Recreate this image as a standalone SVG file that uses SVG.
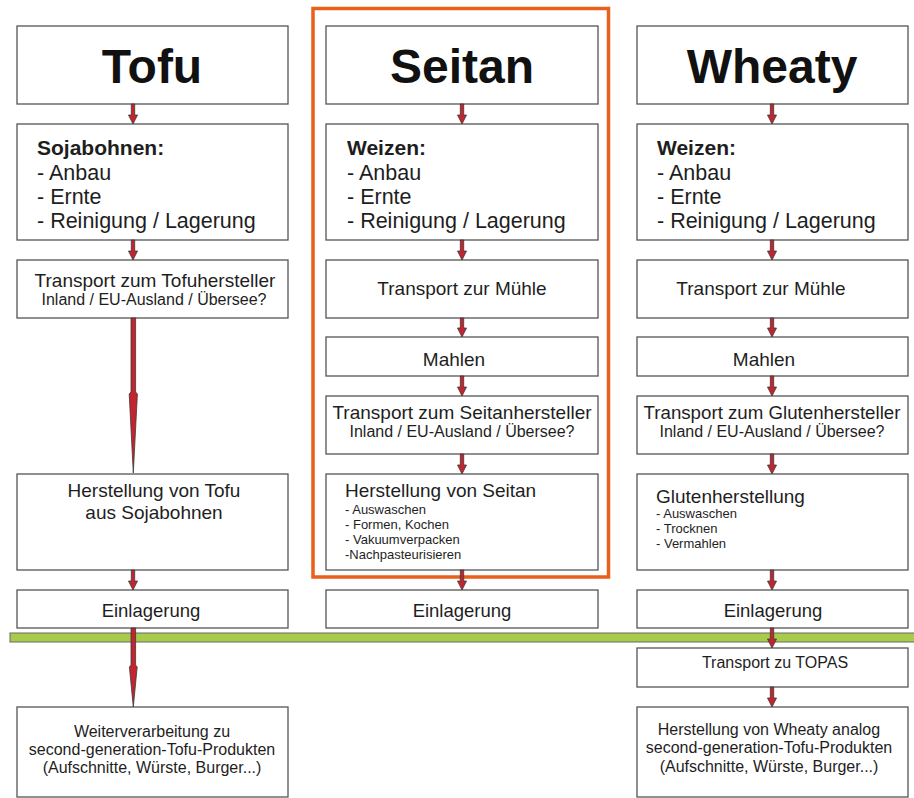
<svg xmlns="http://www.w3.org/2000/svg" width="914" height="798" viewBox="0 0 914 798">
<style>
.box{fill:#fff;stroke:#555;stroke-width:1.3}
text{font-family:"Liberation Sans",Arial,sans-serif;fill:#1e1e1e}
.title{font-size:48px;font-weight:bold;text-anchor:middle;fill:#111}
.hd{font-size:21px;font-weight:bold}
.li{font-size:21.5px}
.m{font-size:19px;text-anchor:middle}
.s{font-size:16px;text-anchor:middle}
.h{font-size:19px}
.it{font-size:13px}
.arr{fill:#c4242e;stroke:#3a3a3a;stroke-width:0.8;stroke-linejoin:miter}
</style>
<rect width="914" height="798" fill="#fff"/>
<rect x="10" y="633" width="910" height="9" fill="#a8cb4b" stroke="#6a6a6a" stroke-width="1"/>
<rect x="313" y="8.5" width="295.5" height="568.5" fill="none" stroke="#e8601a" stroke-width="3.5"/>
<g id="tofu-title"><rect class="box" x="17" y="26" width="271" height="78"/><text class="title" x="152" y="83">Tofu</text></g>
<g id="tofu-soja"><rect class="box" x="17" y="124" width="271" height="116"/><text class="hd" x="37" y="155">Sojabohnen:</text><text class="li" x="37" y="180">- Anbau</text><text class="li" x="37" y="204">- Ernte</text><text class="li" x="37" y="228">- Reinigung / Lagerung</text></g>
<g id="tofu-transport"><rect class="box" x="17" y="260" width="271" height="58"/><text class="m" x="155" y="287">Transport zum Tofuhersteller</text><text class="s" x="154" y="305">Inland / EU-Ausland / Übersee?</text></g>
<g id="tofu-herst"><rect class="box" x="17" y="474" width="271" height="96"/><text class="m" x="154" y="497">Herstellung von Tofu</text><text class="m" x="154" y="519">aus Sojabohnen</text></g>
<g id="tofu-einl"><rect class="box" x="17" y="590" width="271" height="38"/><text class="m" x="151" y="617" style="font-size:18.5px">Einlagerung</text></g>
<g id="tofu-weiter"><rect class="box" x="17" y="707" width="271" height="90"/><text class="s" x="152" y="737">Weiterverarbeitung zu</text><text class="s" x="152" y="755">second-generation-Tofu-Produkten</text><text class="s" x="152" y="773">(Aufschnitte, Würste, Burger...)</text></g>

<g id="seitan-title"><rect class="box" x="326" y="26" width="272" height="78"/><text class="title" x="462" y="83">Seitan</text></g>
<g id="seitan-weizen"><rect class="box" x="326" y="124" width="272" height="116"/><text class="hd" x="347" y="155">Weizen:</text><text class="li" x="347" y="180">- Anbau</text><text class="li" x="347" y="204">- Ernte</text><text class="li" x="347" y="228">- Reinigung / Lagerung</text></g>
<g id="seitan-transport"><rect class="box" x="326" y="260" width="272" height="58"/><text class="m" x="462" y="295">Transport zur Mühle</text></g>
<g id="seitan-mahlen"><rect class="box" x="326" y="337" width="272" height="39"/><text class="m" x="454" y="366">Mahlen</text></g>
<g id="seitan-transport2"><rect class="box" x="326" y="396" width="272" height="58"/><text class="m" x="462" y="419">Transport zum Seitanhersteller</text><text class="s" x="462" y="437">Inland / EU-Ausland / Übersee?</text></g>
<g id="seitan-herst"><rect class="box" x="326" y="474" width="272" height="96"/><text class="h" x="345" y="497">Herstellung von Seitan</text><text class="it" x="345" y="514">- Auswaschen</text><text class="it" x="345" y="529">- Formen, Kochen</text><text class="it" x="345" y="544">- Vakuumverpacken</text><text class="it" x="345" y="559">-Nachpasteurisieren</text></g>
<g id="seitan-einl"><rect class="box" x="326" y="590" width="272" height="38"/><text class="m" x="462" y="617" style="font-size:18.5px">Einlagerung</text></g>

<g id="wheaty-title"><rect class="box" x="637" y="26" width="271" height="78"/><text class="title" x="772" y="83">Wheaty</text></g>
<g id="wheaty-weizen"><rect class="box" x="637" y="124" width="271" height="116"/><text class="hd" x="657" y="155">Weizen:</text><text class="li" x="657" y="180">- Anbau</text><text class="li" x="657" y="204">- Ernte</text><text class="li" x="657" y="228">- Reinigung / Lagerung</text></g>
<g id="wheaty-transport"><rect class="box" x="637" y="260" width="271" height="58"/><text class="m" x="761" y="295">Transport zur Mühle</text></g>
<g id="wheaty-mahlen"><rect class="box" x="637" y="337" width="271" height="39"/><text class="m" x="764" y="366">Mahlen</text></g>
<g id="wheaty-transport2"><rect class="box" x="637" y="396" width="271" height="58"/><text class="m" x="772" y="419" style="font-size:18.7px">Transport zum Glutenhersteller</text><text class="s" x="772" y="437">Inland / EU-Ausland / Übersee?</text></g>
<g id="wheaty-gluten"><rect class="box" x="637" y="474" width="271" height="96"/><text class="h" x="656" y="503">Glutenherstellung</text><text class="it" x="656" y="518">- Auswaschen</text><text class="it" x="656" y="533">- Trocknen</text><text class="it" x="656" y="548">- Vermahlen</text></g>
<g id="wheaty-einl"><rect class="box" x="637" y="590" width="271" height="38"/><text class="m" x="773" y="617" style="font-size:18.5px">Einlagerung</text></g>
<g id="wheaty-topas"><rect class="box" x="637" y="648" width="271" height="39"/><text class="s" x="775" y="668">Transport zu TOPAS</text></g>
<g id="wheaty-herst"><rect class="box" x="637" y="707" width="271" height="90"/><text class="s" x="769" y="735">Herstellung von Wheaty analog</text><text class="s" x="769" y="753">second-generation-Tofu-Produkten</text><text class="s" x="769" y="772">(Aufschnitte, Würste, Burger...)</text></g>

<g id="connectors">
<polygon class="arr" points="131.3,104 134.7,104 134.7,115 137.5,115 133,124 128.5,115 131.3,115"/>
<polygon class="arr" points="131.3,240 134.7,240 134.7,251 137.5,251 133,260 128.5,251 131.3,251"/>
<polygon class="arr" points="131,318 135.6,318 135.6,392 137.4,394 133.3,473 129.2,394 131,392"/>
<polygon class="arr" points="131.3,570 134.7,570 134.7,581 137.5,581 133,590 128.5,581 131.3,581"/>
<polygon class="arr" points="131,628 135.6,628 135.6,665 137.2,667 133.3,707 129.4,667 131,665"/>

<polygon class="arr" points="460.3,104 463.7,104 463.7,115 466.5,115 462,124 457.5,115 460.3,115"/>
<polygon class="arr" points="460.3,240 463.7,240 463.7,251 466.5,251 462,260 457.5,251 460.3,251"/>
<polygon class="arr" points="460.3,318 463.7,318 463.7,328 466.5,328 462,337 457.5,328 460.3,328"/>
<polygon class="arr" points="460.3,376 463.7,376 463.7,387 466.5,387 462,396 457.5,387 460.3,387"/>
<polygon class="arr" points="460.3,454 463.7,454 463.7,465 466.5,465 462,474 457.5,465 460.3,465"/>
<polygon class="arr" points="460.3,570 463.7,570 463.7,581 466.5,581 462,590 457.5,581 460.3,581"/>

<polygon class="arr" points="770.3,104 773.7,104 773.7,115 776.5,115 772,124 767.5,115 770.3,115"/>
<polygon class="arr" points="770.3,240 773.7,240 773.7,251 776.5,251 772,260 767.5,251 770.3,251"/>
<polygon class="arr" points="770.3,318 773.7,318 773.7,328 776.5,328 772,337 767.5,328 770.3,328"/>
<polygon class="arr" points="770.3,376 773.7,376 773.7,387 776.5,387 772,396 767.5,387 770.3,387"/>
<polygon class="arr" points="770.3,454 773.7,454 773.7,465 776.5,465 772,474 767.5,465 770.3,465"/>
<polygon class="arr" points="770.3,570 773.7,570 773.7,581 776.5,581 772,590 767.5,581 770.3,581"/>
<polygon class="arr" points="770.3,628 773.7,628 773.7,639 776.5,639 772,648 767.5,639 770.3,639"/>
<polygon class="arr" points="770.3,687 773.7,687 773.7,698 776.5,698 772,707 767.5,698 770.3,698"/>
</g>
</svg>
